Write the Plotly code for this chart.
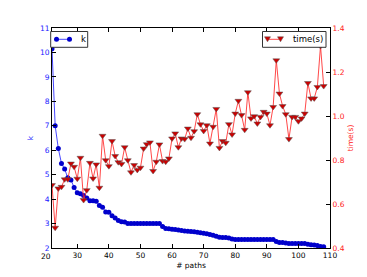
import plotly.graph_objects as go

# ---- data ----
paths = list(range(22, 109))

k_values = [
    10.15, 7.0, 6.07, 5.46, 5.23, 4.87, 4.78, 4.48, 4.26, 4.22,
    4.15, 4.05, 3.93, 3.93, 3.91, 3.74, 3.67, 3.47, 3.46, 3.32,
    3.23, 3.12, 3.07, 3.06,
    3.0, 3.0, 3.0, 3.0, 3.0, 3.0, 3.0, 3.0, 3.0, 3.0, 3.0,
    2.88, 2.80, 2.79, 2.77, 2.76, 2.74, 2.72, 2.70, 2.69, 2.67,
    2.66, 2.64, 2.62, 2.60, 2.58, 2.55, 2.52, 2.48, 2.44, 2.43,
    2.43, 2.41, 2.37, 2.35,
    2.35, 2.35, 2.35, 2.35, 2.35, 2.35, 2.35, 2.35, 2.35, 2.35, 2.35, 2.35,
    2.27, 2.23, 2.22, 2.20,
    2.18, 2.18, 2.18, 2.18, 2.18, 2.18,
    2.15, 2.13, 2.12, 2.10, 2.06, 2.05,
]

time_values = [
    0.686, 0.492, 0.671, 0.678, 0.712, 0.712, 0.784, 0.769, 0.715, 0.810,
    0.618, 0.663, 0.787, 0.716, 0.780, 0.674, 0.910, 0.799, 0.772, 0.886,
    0.818, 0.790, 0.782, 0.858, 0.799, 0.744, 0.777, 0.755, 0.765, 0.852,
    0.872, 0.880, 0.750, 0.792, 0.871, 0.795, 0.792, 0.807, 0.898, 0.921,
    0.858, 0.898, 0.895, 0.943, 0.901, 0.931, 1.008, 0.962, 0.932, 0.958,
    0.875, 0.951, 1.032, 0.855, 0.886, 0.878, 0.963, 0.916, 1.011, 1.069,
    1.004, 0.937, 1.108, 0.989, 0.999, 0.966, 0.996, 1.019, 1.011, 0.958,
    1.041, 1.253, 1.102, 1.045, 1.008, 0.895, 0.996, 0.996, 0.976, 0.989,
    1.011, 1.150, 1.080, 1.080, 1.132, 1.318, 1.136,
]

series_names = ["k", "time(s)"]

x_tick_vals = [20, 30, 40, 50, 60, 70, 80, 90, 100, 110]
k_tick_vals = [2, 3, 4, 5, 6, 7, 8, 9, 10, 11]
time_tick_vals = [0.4, 0.6, 0.8, 1.0, 1.2, 1.4]
time_tick_text = ["0.4", "0.6", "0.8", "1.0", "1.2", "1.4"]

x_range = [22, 110]

# ---- styling ----
FONT = "DejaVu Sans"
K_LINE = "rgba(40,40,255,0.85)"
K_MARK = "#0000cc"
T_LINE = "rgba(255,40,40,0.85)"
T_MARK = "#cc0000"
T_EDGE = "#555555"
K_TXT = "#1a1aff"
T_TXT = "#ff2020"

# page body has an 8px margin: the figure is shifted by it in the window
W, H = 359, 269
ML, MR, MT, MB = 44, 37, 20, 29
PW, PH = W - ML - MR, H - MT - MB


def px_to_paper_x(px):
    return (px - ML) / PW


def px_to_paper_y(py):
    return (H - MB - py) / PH


fig = go.Figure()
fig.add_trace(go.Scatter(
    x=paths, y=k_values, name=series_names[0], mode="lines+markers",
    line=dict(color=K_LINE, width=1),
    marker=dict(symbol="circle", size=5, color=K_MARK, line=dict(width=0)),
    yaxis="y", showlegend=False,
))
fig.add_trace(go.Scatter(
    x=paths, y=time_values, name=series_names[1], mode="lines+markers",
    line=dict(color=T_LINE, width=1),
    marker=dict(symbol="triangle-down", size=6, color=T_MARK,
                line=dict(width=0.5, color=T_EDGE)),
    yaxis="y2", showlegend=False,
))

axis_common = dict(
    ticks="inside", ticklen=4, tickwidth=1, tickcolor="black",
    showline=True, linecolor="black", linewidth=1,
    showgrid=False, zeroline=False, automargin=False,
)

fig.update_layout(
    template="none",
    width=W, height=H,
    margin=dict(l=ML, r=MR, t=MT, b=MB),
    paper_bgcolor="white", plot_bgcolor="white",
    font=dict(family=FONT, size=7.5, color="black"),
    xaxis=dict(
        range=x_range, tickvals=x_tick_vals, mirror="ticks",
        tickfont=dict(size=7.5, color="black"),
        title=dict(text="# paths", font=dict(size=7.5), standoff=3),
        **axis_common,
    ),
    yaxis=dict(
        range=[2, 11], tickvals=k_tick_vals, mirror=True,
        tickfont=dict(size=7.5, color=K_TXT),
        title=dict(text="k", font=dict(size=7.5, color=K_TXT), standoff=5),
        **axis_common,
    ),
    yaxis2=dict(
        range=[0.4, 1.4], tickvals=time_tick_vals, ticktext=time_tick_text,
        overlaying="y", side="right",
        tickfont=dict(size=7.5, color=T_TXT),
        title=dict(text="time(s)", font=dict(size=7.5, color=T_TXT), standoff=4),
        **axis_common,
    ),
    showlegend=False,
)

# matplotlib drew the "20" tick label just left of the axis start
fig.add_annotation(
    x=(x_tick_vals[0] - x_range[0]) / (x_range[1] - x_range[0]), xref="paper",
    xanchor="center",
    y=0, yref="paper", yanchor="top", yshift=-2,
    text=str(x_tick_vals[0]), showarrow=False,
    font=dict(family=FONT, size=7.5, color="black"),
)


# ---- legend boxes (matplotlib style: two markers on a short line) ----
def legend_box(x0, x1, y0, y1, m0, m1, ym, text_x, label, line_col, mark_col, symbol):
    fig.add_shape(type="rect", xref="paper", yref="paper",
                  x0=px_to_paper_x(x0), x1=px_to_paper_x(x1),
                  y0=px_to_paper_y(y1), y1=px_to_paper_y(y0),
                  line=dict(color="#333333", width=1), fillcolor="white",
                  layer="above")
    fig.add_shape(type="line", xref="paper", yref="paper",
                  x0=px_to_paper_x(m0), x1=px_to_paper_x(m1),
                  y0=px_to_paper_y(ym), y1=px_to_paper_y(ym),
                  line=dict(color=line_col, width=1), layer="above")
    for mx in (m0, m1):
        if symbol == "circle":
            fig.add_shape(type="circle", xref="paper", yref="paper",
                          xsizemode="pixel", ysizemode="pixel",
                          xanchor=px_to_paper_x(mx), yanchor=px_to_paper_y(ym),
                          x0=-2.5, x1=2.5, y0=-2.5, y1=2.5,
                          fillcolor=mark_col, line=dict(width=0), layer="above")
        else:
            fig.add_shape(type="path", xref="paper", yref="paper",
                          xsizemode="pixel", ysizemode="pixel",
                          xanchor=px_to_paper_x(mx), yanchor=px_to_paper_y(ym),
                          path="M-3,2.5 L3,2.5 L0,-2.5 Z",
                          fillcolor=mark_col, line=dict(width=0.5, color=T_EDGE),
                          layer="above")
    fig.add_annotation(x=px_to_paper_x(text_x), y=px_to_paper_y(ym),
                       xref="paper", yref="paper", xanchor="left", yanchor="middle",
                       text=label, showarrow=False,
                       font=dict(family=FONT, size=8.5, color="black"))


# positions in figure pixels (window pixels minus the 8px page margin)
legend_box(42.7, 79.7, 23.5, 39.3, 48.5, 61.5, 31.3, 71.0, series_names[0],
           K_LINE, K_MARK, "circle")
legend_box(254.5, 318, 23.5, 39.3, 259.5, 272.5, 31.3, 282.5, series_names[1],
           T_LINE, T_MARK, "triangle")

fig.write_html("out.html")
